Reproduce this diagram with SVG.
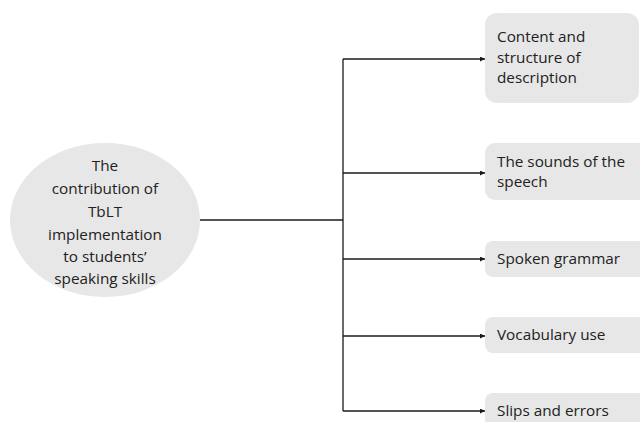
<svg xmlns="http://www.w3.org/2000/svg" width="640" height="422" viewBox="0 0 640 422">
<style>
.box{fill:#e7e7e7;}
.t{font-family:"Open Sans","Liberation Sans",sans-serif;font-size:15.3px;fill:#222;}
.c{text-anchor:middle;}
.ln{stroke:#1a1a1a;stroke-width:1.3;fill:none;}
</style>
<defs>
<marker id="ah" viewBox="0 0 6 6" refX="6" refY="3" markerWidth="5" markerHeight="5" markerUnits="userSpaceOnUse" orient="auto">
<path d="M0,0 L6,3 L0,6 z" fill="#1a1a1a"/>
</marker>
</defs>
<rect width="640" height="422" fill="#fff"/>
<g id="connectors">
<path class="ln" d="M200,220 H343"/>
<path class="ln" d="M343,59 V411"/>
<path class="ln" d="M343,59 H485" marker-end="url(#ah)"/>
<path class="ln" d="M343,173 H485" marker-end="url(#ah)"/>
<path class="ln" d="M343,259 H485" marker-end="url(#ah)"/>
<path class="ln" d="M343,336 H485" marker-end="url(#ah)"/>
<path class="ln" d="M343,411 H485" marker-end="url(#ah)"/>
</g>
<g id="root">
<ellipse class="box" cx="105" cy="220" rx="95" ry="77"/>
<text class="t c" x="105" y="171">The</text>
<text class="t c" x="105" y="194">contribution of</text>
<text class="t c" x="105" y="217">TbLT</text>
<text class="t c" x="105" y="240">implementation</text>
<text class="t c" x="105" y="262">to students’</text>
<text class="t c" x="105" y="284">speaking skills</text>
</g>
<g id="n1">
<rect class="box" x="485" y="13" width="154" height="90" rx="12"/>
<text class="t" x="497" y="42">Content and</text>
<text class="t" x="497" y="63">structure of</text>
<text class="t" x="497" y="83">description</text>
</g>
<g id="n2">
<rect class="box" x="485" y="143" width="170" height="57" rx="10"/>
<text class="t" x="497" y="167">The sounds of the</text>
<text class="t" x="497" y="187">speech</text>
</g>
<g id="n3">
<rect class="box" x="485" y="241" width="170" height="36" rx="8"/>
<text class="t" x="497" y="264">Spoken grammar</text>
</g>
<g id="n4">
<rect class="box" x="485" y="317" width="170" height="36" rx="8"/>
<text class="t" x="497" y="340">Vocabulary use</text>
</g>
<g id="n5">
<rect class="box" x="485" y="393" width="170" height="36" rx="8"/>
<text class="t" x="497" y="416">Slips and errors</text>
</g>
</svg>
